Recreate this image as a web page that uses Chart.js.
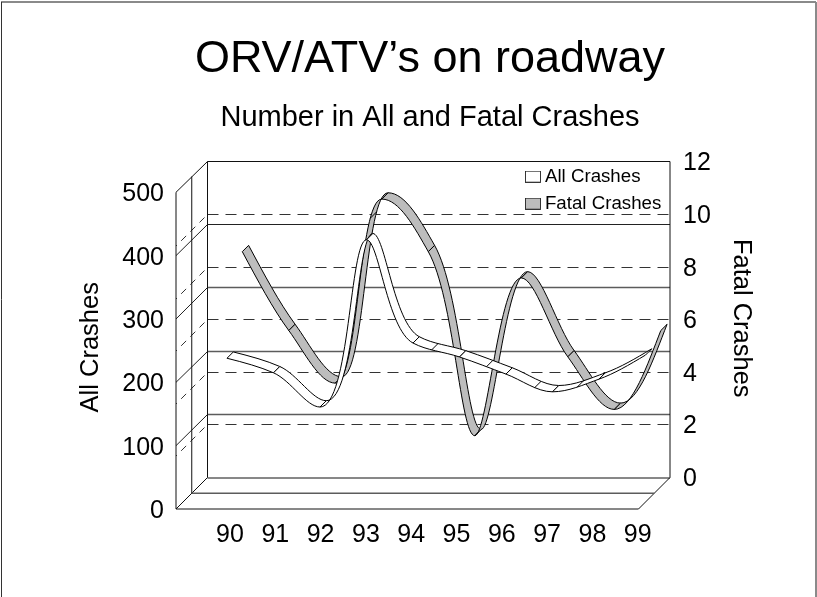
<!DOCTYPE html>
<html>
<head>
<meta charset="utf-8">
<style>html,body{margin:0;padding:0;background:#fff}canvas{display:block}</style>
<script src="https://cdn.jsdelivr.net/npm/chart.js@4"></script>
</head>
<body>
<div style="width:817px;height:597px"><canvas id="c" width="817" height="597"></canvas></div>
<script>
const categories = ['90','91','92','93','94','95','96','97','98','99'];
const allCrashes = [238,215,161,425,262,240,213,185,205,243];
const fatalCrashes = [8,5,3,10,8,1,7,4,2,5];
const leftTicks = [0,100,200,300,400,500];
const rightTicks = [0,2,4,6,8,10,12];
const allSeams = [4.42,5.58,6.62,7.53];
const fatalSeams = [2.8];

const FONT = '"Liberation Sans", Helvetica, Arial, sans-serif';
const DEPTH = 31.5;          // floor and side wall depth in px
const RIBBON = [6.3,-6.3];   // ribbon thickness vector
const SMOOTH = 0.28;         // curve handle length factor

function swatch(fill){
  const c=document.createElement('canvas');c.width=16;c.height=12;
  const x=c.getContext('2d');x.fillStyle=fill;x.fillRect(0.5,0.5,15,11);
  x.strokeStyle='#222';x.lineWidth=0.9;x.strokeRect(0.5,0.5,15,11);return c;
}
function line(ctx,x1,y1,x2,y2){ctx.beginPath();ctx.moveTo(x1,y1);ctx.lineTo(x2,y2);ctx.stroke();}
function bez(a,b,c,d,t){
  const u=1-t;return u*u*u*a+3*u*u*t*b+3*u*t*t*c+t*t*t*d;
}
// smooth curve through the scale-placed points: flat at turning points,
// handle lengths weighted by the neighbouring chord lengths
function curve(pts){
  const n=pts.length,d=[],len=[],m=[],hIn=[],hOut=[];
  for(let i=0;i<n-1;i++){
    const ex=pts[i+1].x-pts[i].x,ey=pts[i+1].y-pts[i].y;
    d.push(ey/ex);len.push(Math.hypot(ex,ey));
  }
  for(let i=1;i<n-1;i++) m[i]=d[i-1]*d[i]<=0?0:2*d[i-1]*d[i]/(d[i-1]+d[i]);
  m[0]=(3*d[0]-m[1])/2;
  m[n-1]=(3*d[n-2]-m[n-2])/2;
  for(let i=0;i<n;i++){
    const un=Math.hypot(1,m[i]);
    if(i===0){hOut[i]=len[0]/3/un;continue;}
    if(i===n-1){hIn[i]=len[n-2]/3/un;continue;}
    const span=Math.hypot(pts[i+1].x-pts[i-1].x,pts[i+1].y-pts[i-1].y),tot=len[i-1]+len[i];
    hIn[i]=SMOOTH*span*len[i-1]/tot/un;
    hOut[i]=SMOOTH*span*len[i]/tot/un;
  }
  return i=>{
    const p=pts[i],q=pts[i+1],h=q.x-p.x,sum=hOut[i]+hIn[i+1];
    const f=Math.min(h,Math.max(h*0.67,sum))/sum;
    const a=hOut[i]*f,b=hIn[i+1]*f;
    return {p,q,ax:p.x+a,ay:p.y+a*m[i],bx:q.x-b,by:q.y-b*m[i+1]};
  };
}

const frame3d = {
  id:'frame3d',
  beforeDraw(chart){
    const {ctx,width,height}=chart;
    ctx.save();
    ctx.fillStyle='#fff';ctx.fillRect(0,0,width,height);
    ctx.strokeStyle='#8a8a8a';ctx.lineWidth=2;
    line(ctx,1,2,width-1,2);
    line(ctx,width-1,2,width-1,height);
    ctx.strokeStyle='#333';ctx.lineWidth=1;
    line(ctx,1.5,2,1.5,height);
    ctx.restore();
  },
  afterLayout(chart){
    const lg=chart.legend;
    lg.left=522;lg.right=690;lg.top=159;lg.bottom=232;
    [['y',12],['y2',-17]].forEach(([id,dy])=>{
      const s=chart.scales[id];
      if(s._shifted) return;
      const orig=s.drawTitle;
      s.drawTitle=function(){this.ctx.save();this.ctx.translate(0,dy);orig.call(this);this.ctx.restore();};
      s._shifted=true;
    });
  },
  beforeDatasetsDraw(chart){
    const {ctx,chartArea:a,scales}=chart;
    const yL=scales.y,yR=scales.y2;
    const fl=a.left,bl=fl+DEPTH,fb=a.bottom,bb=fb-DEPTH,br=a.right,fr=br-DEPTH;
    const top=yL.getPixelForValue(500);
    ctx.save();
    ctx.lineCap='butt';
    // secondary dashed grid
    ctx.strokeStyle='#333';ctx.lineWidth=1;ctx.setLineDash([11,7]);
    rightTicks.filter(v=>v>0&&v<12).forEach(v=>{
      const p=Math.round(yR.getPixelForValue(v))+0.5;
      line(ctx,bl,p,br,p);
      ctx.save();ctx.setLineDash([7,6]);line(ctx,bl-3,p+3,fl,p+DEPTH);ctx.restore();
    });
    ctx.setLineDash([]);
    // primary grid on back wall and side wall
    leftTicks.filter(v=>v>0&&v<500).forEach(v=>{
      const f=yL.getPixelForValue(v),p=Math.round(f-DEPTH)+0.5;
      ctx.strokeStyle=v===400?'#222':'#5c5c5c';ctx.lineWidth=v===400?1:1.4;
      line(ctx,bl,p,br,p);
      ctx.strokeStyle='#222';ctx.lineWidth=1;
      line(ctx,bl,p,fl,f);
    });
    // walls and floor
    ctx.strokeStyle='#111';ctx.lineWidth=1;
    ctx.beginPath();
    ctx.moveTo(fl,fb);ctx.lineTo(fl,top);ctx.lineTo(bl,a.top);ctx.lineTo(br,a.top);
    ctx.lineTo(br,bb);ctx.lineTo(fr,fb);ctx.closePath();ctx.stroke();
    line(ctx,bl,a.top,bl,bb);
    line(ctx,bl,bb+0.5,br,bb+0.5);
    line(ctx,fl,fb,bl,bb);
    line(ctx,fl+DEPTH/2,top-DEPTH/2,fl+DEPTH/2,fb-DEPTH/2);
    ctx.strokeStyle='#5c5c5c';ctx.lineWidth=1.3;
    line(ctx,fl+DEPTH/2,fb-DEPTH/2,br-DEPTH/2,fb-DEPTH/2);
    ctx.restore();
  },
  afterDatasetDraw(chart,args){
    const ds=chart.data.datasets[args.index],pts=args.meta.data,{ctx}=chart;
    const sx=ds.depthShift[0],sy=ds.depthShift[1],dx=RIBBON[0],dy=RIBBON[1];
    const seg=curve(pts);
    ctx.save();
    ctx.lineWidth=1;ctx.strokeStyle='#000';ctx.fillStyle=ds.backgroundColor;ctx.lineJoin='round';
    ctx.translate(sx,sy);
    for(let i=0;i<pts.length-1;i++){
      const {p,q,ax,ay,bx,by}=seg(i);
      ctx.beginPath();
      ctx.moveTo(p.x,p.y);
      ctx.bezierCurveTo(ax,ay,bx,by,q.x,q.y);
      ctx.lineTo(q.x+dx,q.y+dy);
      ctx.bezierCurveTo(bx+dx,by+dy,ax+dx,ay+dy,p.x+dx,p.y+dy);
      ctx.closePath();
      ctx.fill();ctx.stroke();
    }
    ds.seams.forEach(s=>{
      const i=Math.floor(s),t=s-i,{p,q,ax,ay,bx,by}=seg(i);
      const x=bez(p.x,ax,bx,q.x,t),y=bez(p.y,ay,by,q.y,t);
      line(ctx,x,y,x+dx,y+dy);
    });
    ctx.restore();
  }
};

new Chart(document.getElementById('c'),{
  type:'line',
  data:{datasets:[
    {label:'All Crashes',data:allCrashes.map((v,i)=>({x:i,y:v})),yAxisID:'y',xAxisID:'xData',
     backgroundColor:'#ffffff',borderColor:'#111',borderWidth:0,pointRadius:0,
     depthShift:[0,0],seams:allSeams,legendIcon:swatch('#ffffff')},
    {label:'Fatal Crashes',data:fatalCrashes.map((v,i)=>({x:i,y:v})),yAxisID:'y2',xAxisID:'xData',
     backgroundColor:'#bdbdbd',borderColor:'#111',borderWidth:0,pointRadius:0,
     depthShift:[15.3,-15],seams:fatalSeams,legendIcon:swatch('#bdbdbd')}
  ]},
  options:{
    responsive:false,animation:false,
    layout:{padding:{left:43,right:0,top:0,bottom:0}},
    plugins:{
      title:{display:true,text:'ORV/ATV\u2019s on roadway',color:'#000',
        font:{family:FONT,size:45,weight:'normal'},padding:{top:33,bottom:6}},
      subtitle:{display:true,text:'Number in All and Fatal Crashes',color:'#000',
        font:{family:FONT,size:29,weight:'normal'},padding:{top:7.6,bottom:26.1}},
      legend:{display:true,position:'chartArea',align:'start',
        labels:{usePointStyle:true,pointStyleWidth:5.3,boxHeight:12,padding:8.3,color:'#000',
          font:{family:FONT,size:18.7},
          generateLabels(chart){return chart.data.datasets.map((d,i)=>({text:d.label,datasetIndex:i,pointStyle:d.legendIcon,fontColor:'#000',hidden:false,lineWidth:0}));}}},
      tooltip:{enabled:false}
    },
    scales:{
      x:{type:'linear',position:'bottom',min:-1.192,max:9.713,
        grid:{display:false,drawTicks:false},border:{display:false},
        afterBuildTicks(s){s.ticks=categories.map((c,i)=>({value:i}));},
        afterFit(s){s.height=88;},
        ticks:{padding:11,color:'#000',font:{family:FONT,size:25},maxRotation:0,autoSkip:false,
          callback:v=>categories[v]}},
      xData:{type:'linear',display:false,position:'bottom',min:-1.097,max:9.527},
      y:{type:'linear',position:'left',min:0,max:548.6,
        grid:{display:false,drawTicks:false},border:{display:false},
        afterBuildTicks(s){s.ticks=leftTicks.map(v=>({value:v}));},
        afterFit(s){s.width=133;},
        ticks:{padding:12,color:'#000',font:{family:FONT,size:25},autoSkip:false,labelOffset:2},
        title:{display:true,text:'All Crashes',color:'#000',font:{family:FONT,size:25.5},padding:{top:32.7,bottom:0}}},
      y2:{type:'linear',position:'right',min:-1.217,max:12,
        grid:{display:false,drawTicks:false},border:{display:false},
        afterBuildTicks(s){s.ticks=rightTicks.map(v=>({value:v}));},
        afterFit(s){s.width=147;},
        ticks:{padding:13,color:'#000',font:{family:FONT,size:25},autoSkip:false,labelOffset:2},
        title:{display:true,text:'Fatal Crashes',color:'#000',font:{family:FONT,size:25.5},padding:{top:60.7,bottom:0}}}
    }
  },
  plugins:[frame3d]
});
</script>
</body>
</html>
